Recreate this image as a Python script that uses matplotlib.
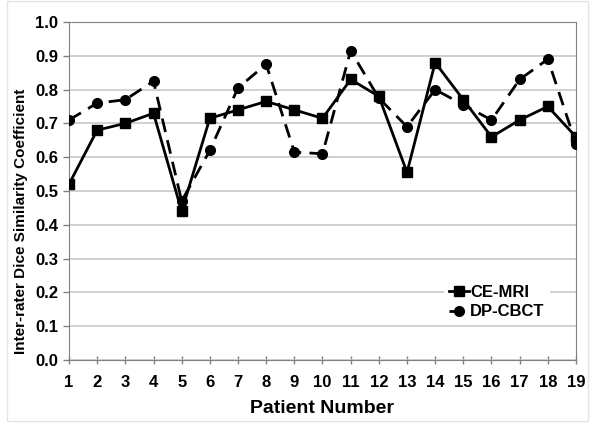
import matplotlib
matplotlib.use('Agg')
import matplotlib.pyplot as plt
from matplotlib.patches import Rectangle

plt.rcParams['font.family'] = ['Liberation Sans', 'DejaVu Sans']

# data
patients = list(range(1, 20))
ce_mri = [0.52, 0.68, 0.70, 0.73, 0.44, 0.715, 0.74, 0.765, 0.74, 0.715,
          0.83, 0.78, 0.555, 0.88, 0.77, 0.66, 0.71, 0.75, 0.66]
dp_cbct = [0.71, 0.76, 0.77, 0.825, 0.47, 0.62, 0.805, 0.875, 0.615, 0.61,
           0.915, 0.775, 0.69, 0.80, 0.755, 0.71, 0.83, 0.89, 0.64]
y_ticks = [0.0, 0.1, 0.2, 0.3, 0.4, 0.5, 0.6, 0.7, 0.8, 0.9, 1.0]

fig = plt.figure(figsize=(6, 4.32), dpi=100)
ax = fig.add_axes([0.115, 0.167, 0.845, 0.782])

# light outer border like the exported excel chart
fig.patches.append(Rectangle((0.012, 0.025), 0.968, 0.972, transform=fig.transFigure,
                             fill=False, edgecolor='#e4e4e4', linewidth=1.0))

ax.plot(patients, ce_mri, color='black', linewidth=2, marker='s', markersize=7,
        label='CE-MRI', zorder=3)
ax.plot(patients, dp_cbct, color='black', linewidth=2, linestyle=(0, (5, 3)),
        marker='o', markersize=7, label='DP-CBCT', zorder=3)

ax.set_xlim(1, 19)
ax.set_ylim(0, 1.0)
ax.set_xticks(patients)
ax.set_yticks(y_ticks)
ax.set_yticklabels([f'{v:.1f}' for v in y_ticks])
ax.grid(axis='y', color='#c8c8c8', linewidth=1.2)
ax.set_axisbelow(True)
for s in ax.spines.values():
    s.set_color('#808080')
ax.tick_params(axis='both', colors='#808080', width=1, labelcolor='black',
               labelsize=12)
ax.tick_params(axis='x', direction='inout', length=6, pad=8)
ax.tick_params(axis='y', direction='out', length=4, pad=4)
for lab in ax.get_xticklabels() + ax.get_yticklabels():
    lab.set_fontweight('bold')

ax.set_xlabel('Patient Number', fontsize=14, fontweight='bold', labelpad=7)
ax.set_ylabel('Inter-rater Dice Similarity Coefficient', fontsize=11, fontweight='bold')
ax.yaxis.set_label_coords(-0.08, 0.41)

leg = ax.legend(loc='lower right', bbox_to_anchor=(0.948, 0.105), frameon=True,
                fancybox=False, edgecolor='none', facecolor='white', framealpha=1,
                handlelength=1.2, handletextpad=0.1, borderpad=0.3, labelspacing=0.25,
                borderaxespad=0, prop={'weight': 'bold', 'size': 12})

fig.savefig('out.png', dpi=100)
